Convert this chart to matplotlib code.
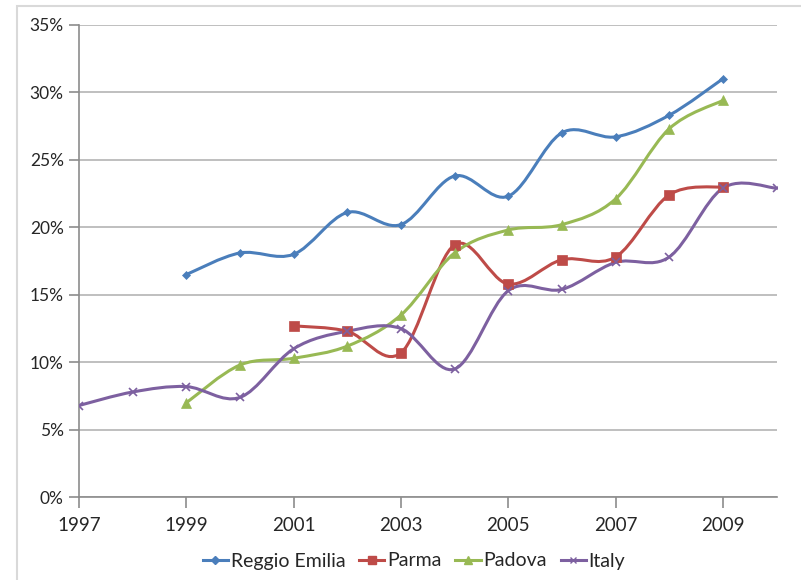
import numpy as np
import matplotlib
matplotlib.use("Agg")
import matplotlib.pyplot as plt
from matplotlib.path import Path
from matplotlib.patches import PathPatch, Rectangle
from matplotlib.ticker import FixedLocator, FuncFormatter

# Share of the population (%) by year
years = list(range(1997, 2011))
reggio_emilia = [None, None, 16.5, 18.1, 18.0, 21.1, 20.2, 23.8, 22.3, 27.0, 26.7, 28.3, 31.0, None]
parma = [None, None, None, None, 12.7, 12.3, 10.7, 18.7, 15.8, 17.6, 17.8, 22.4, 23.0, None]
padova = [None, None, 7.0, 9.8, 10.3, 11.2, 13.5, 18.1, 19.8, 20.2, 22.1, 27.3, 29.4, None]
italy = [6.8, 7.8, 8.2, 7.4, 11.0, 12.3, 12.5, 9.5, 15.3, 15.4, 17.4, 17.8, 22.9, 22.9]

series_names = ["Reggio Emilia", "Parma", "Padova", "Italy"]
series_values = [reggio_emilia, parma, padova, italy]
series_colors = ["#4A7EBB", "#BE4B48", "#98B954", "#7D60A0"]
series_markers = ["D", "s", "^", "x"]
marker_sizes = [4.5, 6.5, 6.5, 6]

x_tick_years = [1997, 1999, 2001, 2003, 2005, 2007, 2009]
y_ticks = [0, 5, 10, 15, 20, 25, 30, 35]

plt.rcParams["font.family"] = ["Lato", "DejaVu Sans"]
text_color = "#262626"

W, H = 801, 580
fig = plt.figure(figsize=(W / 100, H / 100), dpi=100)
fig.patch.set_facecolor("white")

# chart-area frame
fig.patches.append(Rectangle((16.5 / W, -0.05), 1.1, 1 - 6 / H + 0.05,
                             transform=fig.transFigure, fill=False,
                             edgecolor="#d9d9d9", linewidth=1.5))

ax = fig.add_axes([79 / W, 1 - 497.3 / H, (776.5 - 79) / W, (497.3 - 24.8) / H])
ax.set_xlim(1997, 2010)
ax.set_ylim(0, 35)


def smooth_path(xs, ys):
    """Cubic Bezier spline through the points (Catmull-Rom style)."""
    pts = np.column_stack([xs, ys]).astype(float)
    verts = [pts[0]]
    codes = [Path.MOVETO]
    n = len(pts)
    for i in range(n - 1):
        p0 = pts[i - 1] if i > 0 else pts[i]
        p1 = pts[i]
        p2 = pts[i + 1]
        p3 = pts[i + 2] if i + 2 < n else pts[i + 1]
        c1 = p1 + (p2 - p0) / 6.0
        c2 = p2 - (p3 - p1) / 6.0
        verts += [c1, c2, p2]
        codes += [Path.CURVE4] * 3
    return Path(verts, codes)


handles = []
for name, vals, col, mk, ms in zip(series_names, series_values, series_colors,
                                   series_markers, marker_sizes):
    xs = [y for y, v in zip(years, vals) if v is not None]
    ys = [v for v in vals if v is not None]
    patch = PathPatch(smooth_path(xs, ys), facecolor="none", edgecolor=col,
                      linewidth=2.2, zorder=3, capstyle="round", joinstyle="round")
    ax.add_patch(patch)
    ax.plot(xs, ys, linestyle="none", marker=mk, markersize=ms, color=col,
            markeredgecolor=col, markeredgewidth=1.2 if mk == "x" else 0.5, zorder=4)
    h, = ax.plot([], [], color=col, linewidth=2.2, marker=mk, markersize=ms * 0.8,
                 markeredgecolor=col, label=name)
    handles.append(h)

# grid and axes
ax.yaxis.set_major_locator(FixedLocator(y_ticks))
ax.yaxis.set_major_formatter(FuncFormatter(lambda v, p: f"{int(v)}%"))
ax.xaxis.set_major_locator(FixedLocator(x_tick_years))
ax.grid(axis="y", color="#bfbfbf", linewidth=1.4, zorder=0)
ax.set_axisbelow(True)
for s in ["top", "right"]:
    ax.spines[s].set_visible(False)
for s in ["left", "bottom"]:
    ax.spines[s].set_color("#8c8c8c")
    ax.spines[s].set_linewidth(1.2)
ax.tick_params(axis="y", length=7, width=1.2, color="#8c8c8c", pad=4,
               labelsize=12.5, labelcolor=text_color)
ax.tick_params(axis="x", length=8, width=1.2, color="#8c8c8c", pad=6,
               labelsize=13.5, labelcolor=text_color)

fig.legend(handles=handles, loc="center", bbox_to_anchor=(414 / W, 1 - 561 / H),
           ncol=4, frameon=False, fontsize=14, handlelength=1.3,
           handletextpad=0.15, columnspacing=0.7, labelcolor=text_color)

fig.savefig("out.png", dpi=100, facecolor="white")
